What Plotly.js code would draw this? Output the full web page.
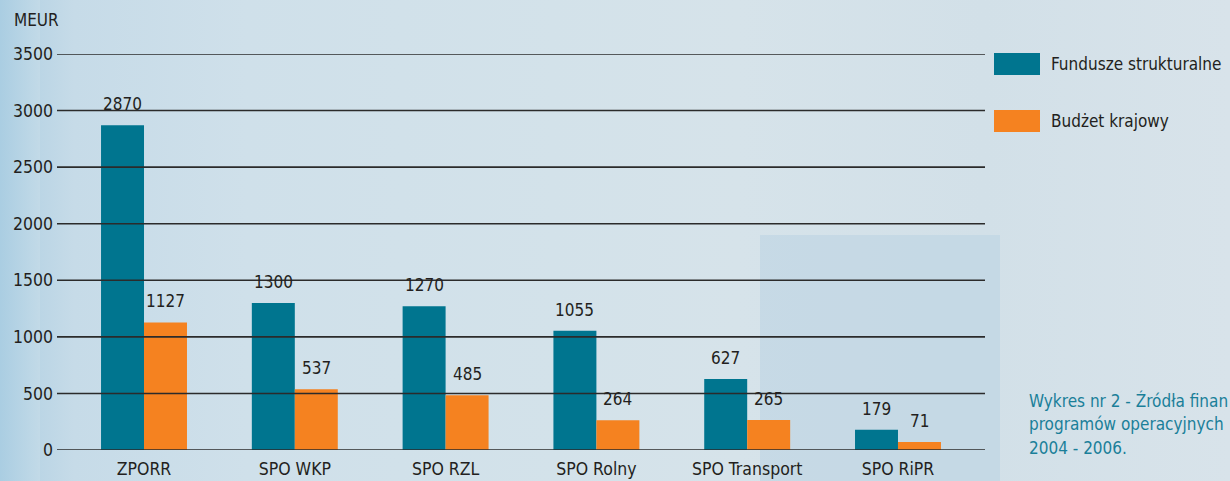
<!DOCTYPE html>
<html><head><meta charset="utf-8">
<script src="https://cdn.plot.ly/plotly-3.0.1.min.js"></script>
<style>
html,body{margin:0;padding:0;}
body{width:1230px;height:481px;overflow:hidden;position:relative;
background:linear-gradient(90deg,#aecfe2 0%,#c6dbe8 6%,#cfe0ea 20%,#d3e2ea 45%,#d6e3ea 60%,#d2e0e8 80%,#d8e3ea 100%);}
#bg1{position:absolute;left:760px;top:235px;width:240px;height:246px;background:#bcd4e3;opacity:0.6;}
#bg2{position:absolute;left:0;top:0;width:40px;height:481px;background:linear-gradient(90deg,#a9cde2,#c4dbe8);opacity:0.8;}
#chart{position:absolute;left:0;top:0;width:1230px;height:481px;}
</style></head>
<body><div id="bg1"></div><div id="bg2"></div><div id="chart"></div>
<script>
const categories = ["ZPORR","SPO WKP","SPO RZL","SPO Rolny","SPO Transport","SPO RiPR"];
const funduszeStrukturalne = [2870,1300,1270,1055,627,179];
const budzetKrajowy = [1127,537,485,264,265,71];
const yTicks = [0,500,1000,1500,2000,2500,3000,3500];
const seriesNames = ["Fundusze strukturalne","Budżet krajowy"];
const captionLines = ["Wykres nr 2 - Źródła finan","programów operacyjnych","2004 - 2006."];
const colors = ["#00758f","#f58220"];
const FONT = "'DejaVu Sans Condensed','Liberation Sans Narrow','Roboto',sans-serif";
const TXT = '#231f20';

const series = [funduszeStrukturalne, budzetKrajowy];
const traces = series.map((vals,i)=>({
  type:'bar', x:categories, y:vals, name:seriesNames[i],
  marker:{color:colors[i]}, showlegend:false, hoverinfo:'skip'
}));

const shapes = yTicks.map(v=>({type:'line',xref:'paper',yref:'y',x0:0,x1:1,y0:v,y1:v,
  line:{color:'#2b2b2b',width:1.6},layer:'above'}));
const annotations = [
  {xref:'paper',yref:'paper',x:(12-57)/928,y:(450-20)/396,xanchor:'left',yanchor:'middle',text:'MEUR',showarrow:false,
   font:{family:FONT,size:17,color:TXT}}
];
// value labels
series.forEach((vals,i)=>{
  vals.forEach((v,j)=>{
    annotations.push({xref:'x',yref:'y',x:categories[j],y:v,xshift:(i===0?-21.5:21.5),yshift:9,
      xanchor:'center',yanchor:'bottom',text:String(v),showarrow:false,
      font:{family:FONT,size:17,color:TXT}});
  });
});
// custom legend
seriesNames.forEach((n,i)=>{
  const yTop = 53 + i*57;
  shapes.push({type:'rect',xref:'paper',yref:'paper',
    x0:(994-57)/928, x1:(1040-57)/928, y0:(450-yTop)/396, y1:(450-yTop-22)/396,
    fillcolor:colors[i],line:{width:0},layer:'above'});
  annotations.push({xref:'paper',yref:'paper',x:(1049-57)/928,y:(450-yTop-11)/396,xanchor:'left',yanchor:'middle',
    text:n,showarrow:false,font:{family:FONT,size:17,color:TXT}});
});
captionLines.forEach((t,k)=>{
  annotations.push({xref:'paper',yref:'paper',x:(1027-57)/928,y:(450-(400+24*k))/396,xanchor:'left',yanchor:'middle',
    text:t,showarrow:false,font:{family:FONT,size:17,color:'#1a7f99'}});
});

const layout = {
  width:1230,height:481,
  paper_bgcolor:'rgba(0,0,0,0)',plot_bgcolor:'rgba(0,0,0,0)',
  margin:{l:57,r:245,t:54,b:31},
  barmode:'group',bargap:0.43,bargroupgap:0,
  xaxis:{range:[-0.577,5.577],showgrid:false,zeroline:false,showline:false,ticks:'',ticklabelstandoff:6,
    tickfont:{family:FONT,size:17.5,color:TXT},fixedrange:true},
  yaxis:{range:[0,3500],tickvals:yTicks,ticktext:yTicks.map(String),showgrid:false,zeroline:false,
    showline:false,ticks:'',ticklabelstandoff:3,tickfont:{family:FONT,size:17.5,color:TXT},fixedrange:true},
  shapes:shapes, annotations:annotations, font:{family:FONT}
};
Plotly.newPlot('chart',traces,layout,{staticPlot:true,displayModeBar:false});
</script></body></html>
